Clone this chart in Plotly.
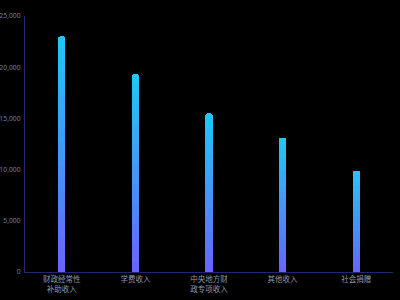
import plotly.graph_objects as go

categories = ["财政经常性<br>补助收入", "学费收入", "中央地方财<br>政专项收入", "其他收入", "社会捐赠"]
values = [23000, 19300, 15500, 13100, 9900]
y_ticks = [0, 5000, 10000, 15000, 20000, 25000]

top_rgb = (30, 200, 245)
bot_rgb = (104, 100, 255)
N = 20

fig = go.Figure()
for i in range(N):
    t = (i + 0.5) / N  # 0 bottom -> 1 top
    c = tuple(round(bot_rgb[k] + (top_rgb[k] - bot_rgb[k]) * t) for k in range(3))
    fig.add_trace(go.Bar(
        x=categories,
        y=[v / N for v in values],
        marker=dict(color=f"rgb{c}", line=dict(width=0)),
        width=0.1,
        hoverinfo="skip",
        showlegend=False,
    ))

fig.update_layout(
    barmode="stack",
    barcornerradius=2,
    width=400, height=300,
    margin=dict(l=25, r=7, t=16, b=28),
    paper_bgcolor="#000000",
    plot_bgcolor="#000000",
    font=dict(family="Noto Sans CJK SC, Noto Sans, sans-serif", size=8, color="#7d88a8"),
    xaxis=dict(
        showgrid=False, showline=True, linecolor="#1c2a6b", linewidth=1,
        ticks="", tickfont=dict(size=7.5, color="#8f97ad"), fixedrange=True,
        automargin=False,
    ),
    yaxis=dict(
        range=[0, 25000], tickvals=y_ticks, tickformat=",",
        showgrid=False, zeroline=False, showline=True, linecolor="#1c2a6b", linewidth=1,
        ticks="", tickfont=dict(family="Noto Sans, sans-serif", size=6.8, color="#6f7ea8"),
        ticklabelstandoff=2, automargin=False,
    ),
)
fig.write_html("out.html")
